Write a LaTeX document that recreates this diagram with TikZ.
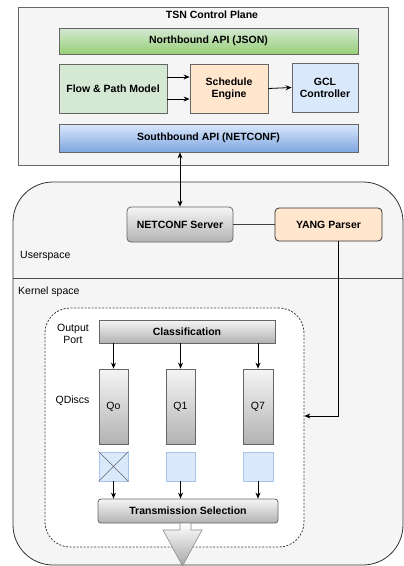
\documentclass[tikz,border=0pt]{standalone}
\usepackage{fontspec}
\setmainfont{Liberation Sans}
\usetikzlibrary{arrows.meta,calc}
\definecolor{bgfill}{HTML}{F5F5F5}
\definecolor{edgegrey}{HTML}{666666}
\definecolor{flowgreen}{HTML}{D5E8D4}
\definecolor{greendark}{HTML}{97D077}
\definecolor{schedorange}{HTML}{FFE6CC}
\definecolor{gclblue}{HTML}{DAE8FC}
\definecolor{bluedark}{HTML}{7EA6E0}
\definecolor{sqedge}{HTML}{A9C4EB}
\tikzset{
  base/.style={draw=edgegrey, line width=0.8pt, inner sep=0pt, align=center, font=\fontsize{10.5}{12}\selectfont\bfseries},
  greybox/.style={base, top color=bgfill, bottom color=black!30},
  sqbox/.style={draw=sqedge, line width=0.8pt, fill=gclblue, minimum width=29pt, minimum height=29pt, inner sep=0pt},
  qbox/.style={greybox, font=\fontsize{10.5}{12}\selectfont, minimum width=29pt, minimum height=75pt},
  conn/.style={line width=0.8pt, -{Stealth[length=6pt,width=5pt]}},
  plain/.style={font=\fontsize{10.5}{12.5}\selectfont, inner sep=0pt, align=center}
}
\begin{document}
\begin{tikzpicture}[x=1pt,y=-1pt]
\useasboundingbox (0,0) rectangle (404,566);
% control plane
\node[draw=edgegrey, line width=0.8pt, fill=bgfill, minimum width=370pt, minimum height=158pt, inner sep=0pt] (cp) at (203,86) {};
\node[plain, font=\fontsize{10.5}{12}\selectfont\bfseries] (cptitle) at (212,15) {TSN Control Plane};
\node[base, top color=flowgreen, bottom color=greendark, minimum width=299pt, minimum height=26pt] (north) at (208.5,41) {Northbound API (JSON)};
\node[base, fill=flowgreen, minimum width=108pt, minimum height=49pt] (flow) at (113,88.5) {Flow \& Path Model};
\node[base, fill=schedorange, minimum width=78pt, minimum height=49pt] (sched) at (229,88.5) {Schedule\\Engine};
\node[base, fill=gclblue, minimum width=66pt, minimum height=49pt] (gcl) at (325,87.5) {GCL\\Controller};
\node[base, top color=gclblue, bottom color=bluedark, minimum width=299pt, minimum height=28pt] (south) at (208.5,138) {Southbound API (NETCONF)};
\draw[conn] ($(flow.east)+(0,-11.5)$) -- ($(sched.west)+(0,-11.5)$);
\draw[conn] ($(flow.east)+(0,10.5)$) -- ($(sched.west)+(0,10.5)$);
\draw[conn] (sched.east) -- (gcl.west);
% host region
\draw[draw=black!80, line width=0.8pt, fill=bgfill, rounded corners=40pt] (13,182) rectangle (403,565);
\coordinate (divl) at (13,278);
\coordinate (divr) at (403,278);
\draw[draw=black!70, line width=0.8pt] (divl) -- (divr);
\node[plain, anchor=west] (user) at (20,256) {Userspace};
\node[plain, anchor=west] (kernel) at (18,292) {Kernel space};
\node[greybox, rounded corners=4pt, minimum width=106pt, minimum height=35pt] (netconf) at (180,224.5) {NETCONF Server};
\node[base, fill=schedorange, draw=black!80, rounded corners=4pt, minimum width=107pt, minimum height=33pt] (yang) at (328.5,224.5) {YANG Parser};
\draw[line width=0.8pt, draw=black!75] (netconf.east) -- (yang.west);
\draw[line width=0.8pt, {Stealth[length=6pt,width=5pt]}-{Stealth[length=6pt,width=5pt]}] (netconf.north |- south.south) -- (netconf.north);
% output port
\node[draw=black!75, line width=0.8pt, dash pattern=on 2pt off 1.5pt, fill=white, rounded corners=25pt, minimum width=259pt, minimum height=239pt, inner sep=0pt] (port) at (174.5,427.5) {};
\draw[conn] ($(yang.south)+(9.5,0)$) |- ($(port.east)+(0,-11.5)$);
\node[plain] (outlbl) at (73,334) {Output\\Port};
\node[plain] (qdlbl) at (72.5,401) {QDiscs};
\node[greybox, minimum width=176pt, minimum height=23pt] (class) at (187,331.5) {Classification};
\node[qbox] (q0) at (113.5,406.5) {Qo};
\node[qbox] (q1) at (180.5,406.5) {Q1};
\node[qbox, minimum width=30pt] (q7) at (258,406.5) {Q7};
\node[sqbox] (s0) at (113.5,466.5) {};
\node[sqbox] (s1) at (180.5,466.5) {};
\node[sqbox, minimum width=30pt] (s7) at (258,466.5) {};
\draw[line width=0.6pt, draw=black!60] (s0.north west) -- (s0.south east) (s0.north east) -- (s0.south west);
\node[greybox, rounded corners=3pt, minimum width=180pt, minimum height=24pt] (trans) at (188,511) {Transmission Selection};
\foreach \q in {q0,q1,q7} {
  \draw[conn] (\q.north |- class.south) -- (\q.north);
}
\foreach \s in {s0,s1,s7} {
  \draw[conn] (\s.south) -- (\s.south |- trans.north);
}
% block arrow
\draw[draw=black!45, line width=0.6pt, top color=white, bottom color=black!35]
  (180,523) -- (191,523) -- (191,530) -- (202,530) -- (182.5,566) -- (163,530) -- (180,530) -- cycle;
\end{tikzpicture}
\end{document}
